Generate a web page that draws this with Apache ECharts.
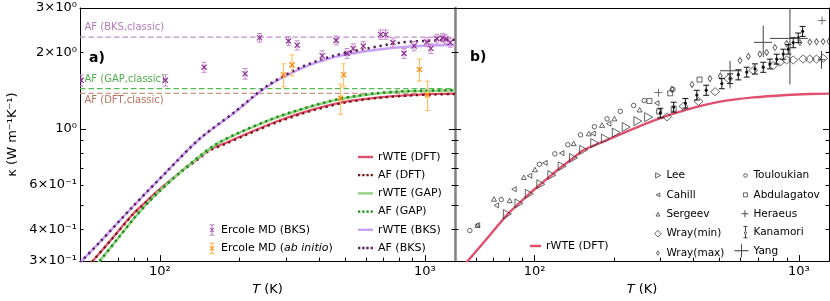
<!DOCTYPE html>
<html><head><meta charset="utf-8">
<script src="https://cdn.jsdelivr.net/npm/echarts@6/dist/echarts.min.js"></script>
<style>html,body{margin:0;padding:0;background:#fff}#c{width:830px;height:301px}</style>
</head><body><div id="c"></div>
<script>
const FONT = 'DejaVu Sans';
// ---- axes / ticks ----
const xTickValues = [100, 1000];
const xTickLabels = ['10²', '10³'];
const xMinorTicks = [60, 70, 80, 90, 200, 300, 400, 500, 600, 700, 800, 900];
const yTickValues = [0.3, 0.4, 0.6, 1, 2, 3];
const yTickLabels = ['3×10⁻¹', '4×10⁻¹', '6×10⁻¹', '10⁰', '2×10⁰', '3×10⁰'];
const yMajorTicks = [1];
const yMinorTicks = [0.3, 0.4, 0.5, 0.6, 0.7, 0.8, 0.9, 2, 3];

// ---- panel a: model curves ----
const dftT = [50, 55.8, 65, 79, 87.3, 95.2, 105.4, 115.8, 127.3, 140, 153.5, 180, 211, 282, 377, 503, 673, 899, 1100, 1300];
const rwteDftK = [0.262, 0.30, 0.361, 0.459, 0.507, 0.552, 0.604, 0.656, 0.711, 0.766, 0.824, 0.885, 0.951, 1.078, 1.19, 1.28, 1.33, 1.36, 1.372, 1.376];
const afDftK = [0.262, 0.30, 0.360, 0.457, 0.505, 0.549, 0.601, 0.652, 0.706, 0.760, 0.817, 0.878, 0.944, 1.068, 1.18, 1.27, 1.325, 1.355, 1.366, 1.372];
const gapT = [50, 59.3, 70, 80, 90, 100, 120, 164, 254, 350, 481, 650, 811, 1000, 1300];
const rwteGapK = [0.243, 0.30, 0.372, 0.443, 0.508, 0.568, 0.675, 0.87, 1.072, 1.20, 1.31, 1.375, 1.40, 1.41, 1.418];
const afGapK = [0.243, 0.30, 0.372, 0.443, 0.508, 0.568, 0.676, 0.872, 1.075, 1.205, 1.315, 1.38, 1.405, 1.415, 1.42];
const bksT = [50, 59.3, 79.3, 106, 141.8, 189.6, 253.6, 339, 453, 606, 811, 1150, 1300];
const rwteBksK = [0.296, 0.356, 0.494, 0.676, 0.915, 1.15, 1.465, 1.725, 1.915, 2.03, 2.10, 2.14, 2.145];
const afBksK = [0.296, 0.356, 0.494, 0.676, 0.915, 1.155, 1.475, 1.745, 1.943, 2.075, 2.19, 2.24, 2.25];
// classical AF limits
const classicNames = ['AF (BKS,classic)', 'AF (GAP,classic)', 'AF (DFT,classic)'];
const classicK = [2.30, 1.44, 1.38];

// ---- panel a: Ercole MD ----
const mdBksT = [50.5, 105, 147, 210, 238, 306, 330, 410, 463, 509, 537, 586, 681, 711, 758, 835, 911, 1018, 1054, 1110, 1166, 1200, 1247];
const mdBksK = [1.554, 1.554, 1.751, 1.650, 2.289, 2.22, 2.137, 1.943, 2.235, 1.985, 2.075, 2.123, 2.357, 2.357, 2.19, 1.985, 2.123, 2.20, 2.075, 2.27, 2.289, 2.26, 2.19];
const mdBksErr = [0.08, 0.08, 0.08, 0.08, 0.09, 0.09, 0.09, 0.09, 0.09, 0.09, 0.09, 0.09, 0.1, 0.1, 0.09, 0.09, 0.09, 0.09, 0.09, 0.09, 0.09, 0.09, 0.09];
const mdAbT = [293, 315.5, 481, 494, 955, 1024];
const mdAbK = [1.635, 1.788, 1.32, 1.635, 1.714, 1.36];
const mdAbErr = [0.17, 0.17, 0.18, 0.17, 0.17, 0.18];

// ---- panel b: experiments ----
const leeT = [78.9, 87.3, 95.5, 105.6, 116.2, 127.2, 140.3, 153.4, 168.9, 185.3, 203.9, 222.2, 246, 270];
const leeK = [0.460, 0.507, 0.553, 0.604, 0.656, 0.711, 0.767, 0.825, 0.878, 0.915, 0.966, 1.016, 1.072, 1.111];
const cahT = [60.8, 71.7, 83.6, 95.7, 109.4, 126.6, 166.5, 190.7, 290];
const cahK = [0.416, 0.498, 0.577, 0.652, 0.733, 0.801, 0.957, 1.047, 1.262];
const serT = [60.8, 70.2, 80.5, 91.1, 100.3, 140.6, 160.4, 180, 200.5, 249.7];
const serK = [0.416, 0.528, 0.521, 0.643, 0.690, 0.875, 0.957, 1.034, 1.097, 1.189];
const wminT = [317, 366, 417, 482, 541, 672, 800, 848, 899, 952, 1038, 1100, 1166, 1235];
const wminK = [1.114, 1.226, 1.282, 1.401, 1.578, 1.699, 1.777, 1.832, 1.87, 1.87, 1.886, 1.886, 1.886, 1.898];
const wmaxT = [331, 394, 461, 504, 599, 644, 712, 755, 812, 899, 1009, 1100, 1166, 1235, 1300];
const wmaxK = [1.434, 1.496, 1.578, 1.616, 1.86, 1.93, 1.972, 2.002, 2.094, 2.17, 2.19, 2.20, 2.205, 2.21, 2.215];
const touT = [56.9, 74.8, 104.4, 119.3, 133.6, 149.2, 168.4, 188.1, 211, 237, 260, 334];
const touK = [0.396, 0.525, 0.724, 0.796, 0.865, 0.946, 1.019, 1.094, 1.172, 1.236, 1.293, 1.43];
const abdT = [272, 296, 326, 336, 421];
const abdK = [1.288, 1.17, 1.38, 1.20, 1.564];
const herT = [294, 1224];
const herK = [1.389, 2.68];
const kanT = [299, 336, 372, 411, 446, 511, 549, 590, 635, 682, 733, 777, 824, 873, 912, 952, 994, 1033];
const kanK = [1.155, 1.218, 1.262, 1.359, 1.421, 1.509, 1.578, 1.635, 1.675, 1.725, 1.751, 1.804, 1.886, 1.972, 2.062, 2.19, 2.289, 2.427];
const kanErr = [0.05, 0.055, 0.055, 0.06, 0.065, 0.07, 0.07, 0.075, 0.075, 0.08, 0.08, 0.08, 0.085, 0.09, 0.09, 0.1, 0.1, 0.11];
const yangT = [549, 733, 925, 1218];
const yangK = [1.695, 2.195, 2.275, 1.874];
const yangTlo = [503, 676, 777, 1180];
const yangThi = [608, 791, 1081, 1260];
const yangKlo = [1.443, 1.92, 1.496, 1.725];
const yangKhi = [1.853, 2.556, 3.05, 2.03];

// ---------------------------------------------------------------
const T_MIN = 50, T_MAX = 1300, K_MIN = 0.3, K_MAX = 3;
const pairs = (xs, ys) => xs.map((x, i) => [x, ys[i]]);
function lookup(vals, labels, v) {
  for (let i = 0; i < vals.length; i++) if (Math.abs(Math.log(v) - Math.log(vals[i])) < 1e-4) return labels[i];
  return '';
}
const tickFont = { fontSize: 13, fontFamily: FONT, color: '#000' };

function xAx(grid, kind) {
  const base = { type: 'log', logBase: 10, gridIndex: grid, min: T_MIN, max: T_MAX, splitLine: { show: false }, minorTick: { show: false } };
  if (kind === 'main') return Object.assign(base, {
    position: 'bottom',
    axisLine: { show: true, lineStyle: { color: '#000', width: 1 } },
    axisTick: { show: true, inside: true, length: 6, customValues: xTickValues, lineStyle: { color: '#000' } },
    axisLabel: Object.assign({ show: true, customValues: xTickValues, margin: 4, formatter: v => lookup(xTickValues, xTickLabels, v) }, tickFont),
    name: '{i|T} (K)', nameLocation: 'middle', nameGap: 20,
    nameTextStyle: { fontSize: 13, fontFamily: FONT, color: '#000', rich: { i: { fontStyle: 'italic', fontSize: 13, fontFamily: FONT, color: '#000' } } }
  });
  if (kind === 'minor') return Object.assign(base, {
    position: 'bottom', axisLine: { show: false }, axisLabel: { show: false },
    axisTick: { show: true, inside: true, length: 3.5, customValues: xMinorTicks, lineStyle: { color: '#000' } }
  });
  return Object.assign(base, {
    position: 'top', axisLine: { show: true, lineStyle: { color: '#000', width: 1 } }, axisLabel: { show: false }, axisTick: { show: false }
  });
}
function yAx(grid, pos, kind, lineColor, lineWidth, withLabels) {
  const base = { type: 'log', logBase: 10, gridIndex: grid, position: pos, min: K_MIN, max: K_MAX, splitLine: { show: false }, minorTick: { show: false } };
  if (kind === 'main') {
    const o = Object.assign(base, {
      axisLine: { show: !!lineColor, lineStyle: { color: lineColor || '#000', width: lineWidth || 1 } },
      axisTick: { show: true, inside: true, length: 6, customValues: yMajorTicks, lineStyle: { color: '#000' } },
      axisLabel: withLabels ? Object.assign({ show: true, customValues: yTickValues, margin: 3, formatter: v => lookup(yTickValues, yTickLabels, v) }, tickFont) : { show: false }
    });
    if (withLabels) Object.assign(o, {
      name: 'κ (W m⁻¹K⁻¹)', nameLocation: 'middle', nameRotate: 90, nameGap: 61,
      nameTextStyle: { fontSize: 13, fontFamily: FONT, color: '#000' }
    });
    return o;
  }
  return Object.assign(base, {
    axisLine: { show: false }, axisLabel: { show: false },
    axisTick: { show: true, inside: true, length: 3.5, customValues: yMinorTicks, lineStyle: { color: '#000' } }
  });
}

// error-bar renderers (drawn through the axes' coordinate mapping)
function mdRender(barColor, markColor) {
  return function (params, api) {
    const t = api.value(0), k = api.value(1), e = api.value(2);
    const c = api.coord([t, k]), lo = api.coord([t, k - e]), hi = api.coord([t, k + e]);
    const bs = { stroke: barColor, lineWidth: 1, fill: null };
    const ms = { stroke: markColor, lineWidth: 1.2, fill: null };
    const r = 2.6;
    return { type: 'group', children: [
      { type: 'line', shape: { x1: c[0], y1: lo[1], x2: c[0], y2: hi[1] }, style: bs },
      { type: 'line', shape: { x1: c[0] - 2.5, y1: lo[1], x2: c[0] + 2.5, y2: lo[1] }, style: bs },
      { type: 'line', shape: { x1: c[0] - 2.5, y1: hi[1], x2: c[0] + 2.5, y2: hi[1] }, style: bs },
      { type: 'line', shape: { x1: c[0] - r, y1: c[1] - r, x2: c[0] + r, y2: c[1] + r }, style: ms },
      { type: 'line', shape: { x1: c[0] - r, y1: c[1] + r, x2: c[0] + r, y2: c[1] - r }, style: ms }
    ] };
  };
}
function kanRender(params, api) {
  const t = api.value(0), k = api.value(1), e = api.value(2);
  const c = api.coord([t, k]), lo = api.coord([t, k - e]), hi = api.coord([t, k + e]);
  const st = { stroke: '#111', lineWidth: 1, fill: null };
  return { type: 'group', children: [
    { type: 'line', shape: { x1: c[0], y1: lo[1], x2: c[0], y2: hi[1] }, style: st },
    { type: 'line', shape: { x1: c[0] - 3, y1: lo[1], x2: c[0] + 3, y2: lo[1] }, style: st },
    { type: 'line', shape: { x1: c[0] - 3, y1: hi[1], x2: c[0] + 3, y2: hi[1] }, style: st },
    { type: 'circle', shape: { cx: c[0], cy: c[1], r: 1.6 }, style: { fill: '#111' } }
  ] };
}
function yangRender(params, api) {
  const t = api.value(0), k = api.value(1);
  const a = api.coord([api.value(2), k]), b = api.coord([api.value(3), k]);
  const lo = api.coord([t, api.value(4)]), hi = api.coord([t, api.value(5)]);
  const st = { stroke: '#444', lineWidth: 1, fill: null };
  return { type: 'group', children: [
    { type: 'line', shape: { x1: a[0], y1: a[1], x2: b[0], y2: b[1] }, style: st },
    { type: 'line', shape: { x1: lo[0], y1: lo[1], x2: hi[0], y2: hi[1] }, style: st }
  ] };
}

function curve(name, T, K, color, width, dotted, xi, yi) {
  return { name, type: 'line', xAxisIndex: xi, yAxisIndex: yi, data: pairs(T, K), smooth: 0.3, symbol: 'none', clip: true,
    lineStyle: { color, width, type: dotted ? [2.3, 3.8] : 'solid', cap: 'butt' }, itemStyle: { color }, z: 3 };
}
const classicColors = ['#c58fcf', '#55bb55', '#c9968a'];
const classicText = ['#b77bbf', '#4cae4c', '#b9705e'];
const classicOffset = [[5, -14], [5, -14], [5, 3]];
function classic(i) {
  return { name: classicNames[i], type: 'line', xAxisIndex: 0, yAxisIndex: 0, symbol: 'circle', symbolSize: 1, showSymbol: true,
    itemStyle: { color: 'rgba(0,0,0,0)' }, lineStyle: { color: classicColors[i], width: 1.2, type: [5.5, 3] }, z: 2,
    data: [{ value: [T_MIN, classicK[i]], label: { show: true, formatter: classicNames[i], position: classicOffset[i], color: classicText[i], fontSize: 10, fontFamily: FONT } },
           [T_MAX, classicK[i]]] };
}
function scat(name, T, K, symbol, size, xi, yi, filled) {
  return { name, type: 'scatter', xAxisIndex: xi, yAxisIndex: yi, data: pairs(T, K), symbol, symbolSize: size, clip: true, z: 4,
    itemStyle: filled ? { color: '#222' } : { color: 'rgba(0,0,0,0)', borderColor: '#2a2a2a', borderWidth: 0.9 } };
}

const triR = 'path://M0,0L10,5L0,10Z', triL = 'path://M10,0L0,5L10,10Z', triU = 'path://M5,0L10,9L0,9Z';
const diam = 'path://M5,0L10,5L5,10L0,5Z';
const plus = 'path://M4.5,0h1v4.5h4.5v1h-4.5v4.5h-1v-4.5h-4.5v-1h4.5z';

const C_DFT = '#e0506c', C_AFDFT = '#7a1414', C_GAP = '#93d383', C_AFGAP = '#1c8c1c', C_BKS = '#c9a2f5', C_AFBKS = '#5a1e5a';

const series = [
  classic(0), classic(1), classic(2),
  curve('rWTE (DFT)', dftT, rwteDftK, C_DFT, 2.2, false, 0, 0),
  curve('AF (DFT)', dftT, afDftK, C_AFDFT, 2.3, true, 0, 0),
  curve('rWTE (GAP)', gapT, rwteGapK, C_GAP, 2.5, false, 0, 0),
  curve('AF (GAP)', gapT, afGapK, C_AFGAP, 2.5, true, 0, 0),
  curve('rWTE (BKS)', bksT, rwteBksK, C_BKS, 2.5, false, 0, 0),
  curve('AF (BKS)', bksT, afBksK, C_AFBKS, 2.5, true, 0, 0),
  { name: 'Ercole MD (BKS)', type: 'custom', xAxisIndex: 0, yAxisIndex: 0, clip: true, z: 5, itemStyle: { color: '#a050a8' },
    encode: { x: 0, y: 1 }, renderItem: mdRender('#c98bcf', '#8a2f8f'), data: mdBksT.map((t, i) => [t, mdBksK[i], mdBksErr[i]]) },
  { name: 'Ercole MD (ab initio)', type: 'custom', xAxisIndex: 0, yAxisIndex: 0, clip: true, z: 5, itemStyle: { color: '#ff9a1a' },
    encode: { x: 0, y: 1 }, renderItem: mdRender('#ffbb55', '#ff8800'), data: mdAbT.map((t, i) => [t, mdAbK[i], mdAbErr[i]]) },
  // panel b
  curve('rWTE (DFT)', dftT, rwteDftK, C_DFT, 2.4, false, 3, 4),
  scat('Lee', leeT, leeK, triR, [8, 9], 3, 4),
  scat('Cahill', cahT, cahK, triL, [4.5, 5], 3, 4),
  scat('Sergeev', serT, serK, triU, [5, 4.5], 3, 4),
  scat('Wray(min)', wminT, wminK, diam, [9, 8], 3, 4),
  scat('Wray(max)', wmaxT, wmaxK, diam, [4, 6], 3, 4),
  scat('Touloukian', touT, touK, 'circle', 4.5, 3, 4),
  scat('Abdulagatov', abdT, abdK, 'rect', 5, 3, 4),
  scat('Heraeus', herT, herK, plus, 8, 3, 4, true),
  { name: 'Kanamori', type: 'custom', xAxisIndex: 3, yAxisIndex: 4, clip: true, z: 5, itemStyle: { color: '#111' },
    encode: { x: 0, y: 1 }, renderItem: kanRender, data: kanT.map((t, i) => [t, kanK[i], kanErr[i]]) },
  { name: 'Yang', type: 'custom', xAxisIndex: 3, yAxisIndex: 4, clip: true, z: 5, itemStyle: { color: '#333' },
    encode: { x: 0, y: 1 }, renderItem: yangRender, data: yangT.map((t, i) => [t, yangK[i], yangTlo[i], yangThi[i], yangKlo[i], yangKhi[i]]) }
];

// legend icons (boxes padded with move-to points so size/placement is controlled)
const solidIcon = 'path://M0,0M15,14M0,5.8h15v2.4h-15z';
const dotIcon = 'path://M0,0M15,14M0,5.85h2.3v2.3h-2.3zM4.2,5.85h2.3v2.3h-2.3zM8.4,5.85h2.3v2.3h-2.3zM12.6,5.85h2.3v2.3h-2.3z';
const solidIconB = 'path://M0,0M11,14M0,5.8h11v2.4h-11z';
const hollow = { color: 'rgba(0,0,0,0)', borderColor: '#2a2a2a', borderWidth: 0.9 };
const mdIcon = 'path://M0,0M8,14M3.6,1.5h0.8v11h-0.8zM1.5,1.5h5v0.8h-5zM1.5,11.7h5v0.8h-5zM2.35,4.65L6.35,8.65L5.65,9.35L1.65,5.35ZM6.35,5.35L2.35,9.35L1.65,8.65L5.65,4.65Z';
const legendLines = [
  { name: 'rWTE (DFT)', icon: solidIcon, itemStyle: { color: C_DFT } },
  { name: 'AF (DFT)', icon: dotIcon, itemStyle: { color: C_AFDFT } },
  { name: 'rWTE (GAP)', icon: solidIcon, itemStyle: { color: C_GAP } },
  { name: 'AF (GAP)', icon: dotIcon, itemStyle: { color: C_AFGAP } },
  { name: 'rWTE (BKS)', icon: solidIcon, itemStyle: { color: C_BKS } },
  { name: 'AF (BKS)', icon: dotIcon, itemStyle: { color: C_AFBKS } }
];
const legendCol1 = [
  { name: 'Lee', icon: 'path://M0,0M7,14M1.2,4.4L6.2,7L1.2,9.6Z', itemStyle: hollow },
  { name: 'Cahill', icon: 'path://M0,0M7,14M5.4,5.2L1.8,7L5.4,8.8Z', itemStyle: hollow },
  { name: 'Sergeev', icon: 'path://M0,0M7,14M3.5,5.2L5.4,8.8L1.6,8.8Z', itemStyle: hollow },
  { name: 'Wray(min)', icon: 'path://M0,0M7,14M3.5,3.6L6.8,7L3.5,10.4L0.2,7Z', itemStyle: hollow },
  { name: 'Wray(max)', icon: 'path://M0,0M7,14M3.5,4.8L5,7L3.5,9.2L2,7Z', itemStyle: hollow }
];
const legendCol2 = [
  { name: 'Touloukian', icon: 'path://M0,0M14,14M9.2,7a1.8,1.8 0 1,0 3.6,0a1.8,1.8 0 1,0 -3.6,0Z', itemStyle: hollow },
  { name: 'Abdulagatov', icon: 'path://M0,0M14,14M9,5L13,5L13,9L9,9Z', itemStyle: hollow },
  { name: 'Heraeus', icon: 'path://M0,0M14,14M10,3.5h1v3h3v1h-3v3h-1v-3h-3v-1h3z', itemStyle: { color: '#222' } },
  { name: 'Kanamori', icon: 'path://M0,0M14,14M10.6,1h0.8v12h-0.8zM9,1h4v0.8h-4zM9,12.2h4v0.8h-4zM9.7,7.5a1.3,1.3 0 1,0 2.6,0a1.3,1.3 0 1,0 -2.6,0Z', itemStyle: { color: '#111' } },
  { name: 'Yang', icon: 'path://M0,0M14,14M0,6.55h14v0.9h-14zM6.55,0.5h0.9v13h-0.9z', itemStyle: { color: '#333' } }
];
const legText = (fs) => ({ fontSize: fs, fontFamily: FONT, color: '#000' });

const option = {
  animation: false,
  backgroundColor: '#fff',
  grid: [
    { left: 80, top: 8, width: 375, height: 258 },
    { left: 455, top: 8, width: 374, height: 258 }
  ],
  xAxis: [xAx(0, 'main'), xAx(0, 'minor'), xAx(0, 'top'), xAx(1, 'main'), xAx(1, 'minor'), xAx(1, 'top')],
  yAxis: [
    yAx(0, 'left', 'main', '#000', 1, true), yAx(0, 'left', 'minor'),
    yAx(0, 'right', 'main', '#808080', 2.5, false), yAx(0, 'right', 'minor'),
    yAx(1, 'left', 'main', null, 1, false), yAx(1, 'left', 'minor'),
    yAx(1, 'right', 'main', '#000', 1, false), yAx(1, 'right', 'minor')
  ],
  title: [
    { text: 'a)', left: 89, top: 51, padding: 0, textStyle: { fontSize: 14, fontWeight: 'bold', fontFamily: FONT, color: '#000' } },
    { text: 'b)', left: 470, top: 50, padding: 0, textStyle: { fontSize: 14, fontWeight: 'bold', fontFamily: FONT, color: '#000' } }
  ],
  legend: [
    { orient: 'vertical', left: 358, top: 150, itemWidth: 15, itemHeight: 14, itemGap: 4.2, selectedMode: false, padding: 0,
      textStyle: legText(11), data: legendLines },
    { orient: 'vertical', left: 208, top: 223, itemWidth: 8, itemHeight: 14, itemGap: 4.3, selectedMode: false, padding: 0,
      textStyle: Object.assign(legText(11), { rich: { it: { fontStyle: 'italic', fontSize: 11, fontFamily: FONT, color: '#000' } } }),
      formatter: n => n === 'Ercole MD (ab initio)' ? 'Ercole MD ({it|ab initio})' : n,
      data: [{ name: 'Ercole MD (BKS)', icon: mdIcon, itemStyle: { color: '#a050a8' } },
             { name: 'Ercole MD (ab initio)', icon: mdIcon, itemStyle: { color: '#ff9a1a' } }] },
    { orient: 'vertical', left: 654, top: 168, itemWidth: 7, itemHeight: 14, itemGap: 4.5, selectedMode: false, padding: 0,
      textStyle: legText(10.5), data: legendCol1 },
    { orient: 'vertical', left: 734, top: 168, itemWidth: 14, itemHeight: 14, itemGap: 4.5, selectedMode: false, padding: 0,
      textStyle: legText(10.5), data: legendCol2 },
    { orient: 'vertical', left: 530, top: 239, itemWidth: 11, itemHeight: 14, selectedMode: false, padding: 0,
      textStyle: legText(11), data: [{ name: 'rWTE (DFT)', icon: solidIconB, itemStyle: { color: C_DFT } }] }
  ],
  series
};
const chart = echarts.init(document.getElementById('c'), null, { renderer: 'canvas' });
chart.setOption(option);
</script></body></html>
